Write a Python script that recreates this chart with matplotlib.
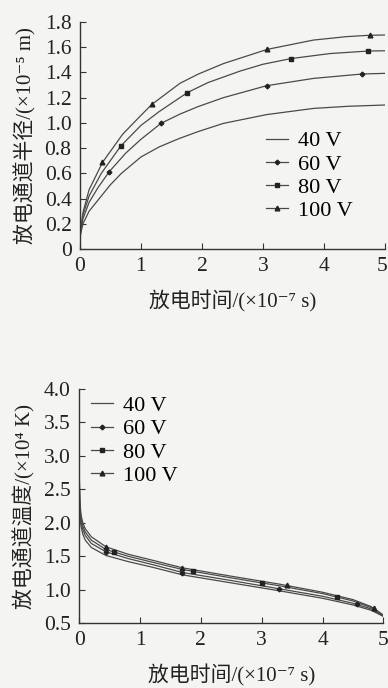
import matplotlib

matplotlib.use("Agg")
import matplotlib.pyplot as plt
import matplotlib.transforms as mtransforms
from matplotlib.lines import Line2D

FONT = ["Liberation Serif", "DejaVu Serif", "Noto Sans CJK SC"]
plt.rcParams["font.family"] = FONT

LINE = "#4a4a4a"
BG = "#f4f4f2"

labels = ["40 V", "60 V", "80 V", "100 V"]
markers = [None, "D", "s", "^"]
msizes = [0, 2.4, 3.0, 3.4]

# --- channel radius vs time (x 1e-7 s, y 1e-5 m) ---
r40_x = [0, 0.01, 0.05, 0.15, 0.3, 0.5, 0.68, 1.0, 1.3, 1.62, 1.93, 2.35, 3.06, 3.83, 4.4, 5.0]
r40_y = [0.05, 0.12, 0.2, 0.3, 0.39, 0.51, 0.6, 0.73, 0.81, 0.875, 0.93, 0.996, 1.066, 1.115, 1.132, 1.142]
r60_x = [0, 0.01, 0.05, 0.15, 0.3, 0.48, 0.75, 1.0, 1.33, 1.64, 1.93, 2.35, 3.06, 3.83, 4.63, 5.0]
r60_y = [0.05, 0.13, 0.24, 0.37, 0.49, 0.613, 0.76, 0.87, 0.997, 1.07, 1.128, 1.20, 1.295, 1.353, 1.388, 1.393]
r80_x = [0, 0.01, 0.05, 0.15, 0.35, 0.67, 1.0, 1.3, 1.76, 2.1, 2.62, 3.0, 3.46, 4.1, 4.73, 5.0]
r80_y = [0.05, 0.14, 0.27, 0.42, 0.6, 0.817, 0.98, 1.09, 1.24, 1.32, 1.41, 1.465, 1.51, 1.55, 1.57, 1.572]
r100_x = [0, 0.01, 0.05, 0.15, 0.37, 0.7, 1.0, 1.18, 1.64, 1.93, 2.35, 3.07, 3.83, 4.37, 4.75, 5.0]
r100_y = [0.05, 0.15, 0.29, 0.47, 0.687, 0.91, 1.06, 1.147, 1.314, 1.385, 1.47, 1.583, 1.657, 1.684, 1.695, 1.697]

rm60_x = [0.48, 1.33, 3.06, 4.63]
rm60_y = [0.613, 0.997, 1.295, 1.388]
rm80_x = [0.67, 1.76, 3.46, 4.73]
rm80_y = [0.817, 1.24, 1.51, 1.57]
rm100_x = [0.37, 1.18, 3.07, 4.75]
rm100_y = [0.687, 1.147, 1.583, 1.695]

# --- channel temperature vs time (x 1e-7 s, y 1e4 K) ---
t_x = [0, 0.01, 0.03, 0.06, 0.1, 0.2, 0.44, 0.8, 1.2, 1.7, 2.5, 3.3, 4.0, 4.5, 4.8, 5.0]
t40_y = [2.7, 2.15, 1.95, 1.83, 1.74, 1.63, 1.51, 1.42, 1.335, 1.22, 1.10, 0.98, 0.87, 0.77, 0.69, 0.6]
t60_y = [2.75, 2.25, 2.02, 1.9, 1.81, 1.69, 1.565, 1.465, 1.375, 1.255, 1.135, 1.01, 0.9, 0.795, 0.71, 0.6]
t80_y = [2.8, 2.3, 2.07, 1.95, 1.86, 1.74, 1.6, 1.5, 1.41, 1.30, 1.175, 1.055, 0.94, 0.83, 0.73, 0.61]
t100_y = [2.85, 2.35, 2.12, 2.0, 1.91, 1.79, 1.64, 1.53, 1.44, 1.325, 1.2, 1.08, 0.96, 0.85, 0.745, 0.62]

tm60_x = [0.44, 1.69, 3.28, 4.56]
tm60_y = [1.565, 1.255, 1.008, 0.784]
tm80_x = [0.575, 1.87, 3.0, 4.24]
tm80_y = [1.555, 1.28, 1.093, 0.884]
tm100_x = [0.44, 1.69, 3.41, 4.85]
tm100_y = [1.64, 1.325, 1.065, 0.73]

x_ticks = [0, 1, 2, 3, 4, 5]
r_ticks = [0, 0.2, 0.4, 0.6, 0.8, 1.0, 1.2, 1.4, 1.6, 1.8]
r_ticklabels = ["0", "0.2", "0.4", "0.6", "0.8", "1.0", "1.2", "1.4", "1.6", "1.8"]
t_ticks = [0.5, 1.0, 1.5, 2.0, 2.5, 3.0, 3.5, 4.0]


def style(ax):
    ax.set_facecolor(BG)
    for s in ("top", "right"):
        ax.spines[s].set_visible(False)
    for s in ("left", "bottom"):
        ax.spines[s].set_color("#333333")
        ax.spines[s].set_linewidth(1.0)
    ax.tick_params(direction="in", length=4, width=0.8, colors="#333333",
                   labelsize=15.5, labelcolor="#222222", pad=6)
    ax.set_xticks(x_ticks)
    ax.set_xlim(0, 5)


def nudge_last_xlabel(fig, ax, dx_px):
    # keep the "5" at the right edge inside the canvas
    lab = ax.get_xticklabels()[-1]
    off = mtransforms.ScaledTranslation(dx_px / fig.dpi, 0, fig.dpi_scale_trans)
    lab.set_transform(lab.get_transform() + off)


def legend(ax, **kw):
    handles = [
        Line2D([], [], color=LINE, lw=0.9, marker=m, ms=ms, markerfacecolor="#222222",
               markeredgecolor="#222222")
        for m, ms in zip(markers, msizes)
    ]
    ax.legend(handles, labels, frameon=False, fontsize=16, handlelength=1.0,
              handletextpad=0.45, labelspacing=0.12, borderaxespad=0, **kw)


fig = plt.figure(figsize=(3.88, 6.88), dpi=100, facecolor=BG)

ax1 = fig.add_axes([0.206, 0.638, 0.786, 0.330])
style(ax1)
for xs, ys in [(r40_x, r40_y), (r60_x, r60_y), (r80_x, r80_y), (r100_x, r100_y)]:
    ax1.plot(xs, ys, color=LINE, lw=0.9)
for (mx, my), m, ms in zip([(rm60_x, rm60_y), (rm80_x, rm80_y), (rm100_x, rm100_y)],
                           markers[1:], msizes[1:]):
    ax1.plot(mx, my, ls="none", marker=m, ms=ms, color="#222222")
ax1.set_ylim(0, 1.8)
ax1.set_yticks(r_ticks)
ax1.set_yticklabels(r_ticklabels)
ax1.set_xlabel("放电时间/(×10⁻⁷ s)", fontsize=15, labelpad=10, color="#222222")
ax1.set_ylabel("放电通道半径/(×10⁻⁵ m)", fontsize=15, labelpad=6, color="#222222")
legend(ax1, loc="upper left", bbox_to_anchor=(0.58, 0.56))
nudge_last_xlabel(fig, ax1, -3)

ax2 = fig.add_axes([0.204, 0.0945, 0.784, 0.340])
style(ax2)
for ys in [t40_y, t60_y, t80_y, t100_y]:
    ax2.plot(t_x, ys, color=LINE, lw=0.9)
for (mx, my), m, ms in zip([(tm60_x, tm60_y), (tm80_x, tm80_y), (tm100_x, tm100_y)],
                           markers[1:], msizes[1:]):
    ax2.plot(mx, my, ls="none", marker=m, ms=ms, color="#222222")
ax2.set_ylim(0.5, 4.0)
ax2.set_yticks(t_ticks)
ax2.set_yticklabels([f"{v:.1f}" for v in t_ticks])
ax2.set_xlabel("放电时间/(×10⁻⁷ s)", fontsize=15, labelpad=10, color="#222222")
ax2.set_ylabel("放电通道温度/(×10⁴ K)", fontsize=15, labelpad=6, color="#222222")
legend(ax2, loc="upper left", bbox_to_anchor=(0.01, 1.01))

fig.savefig("out.png", dpi=100, facecolor=BG)
